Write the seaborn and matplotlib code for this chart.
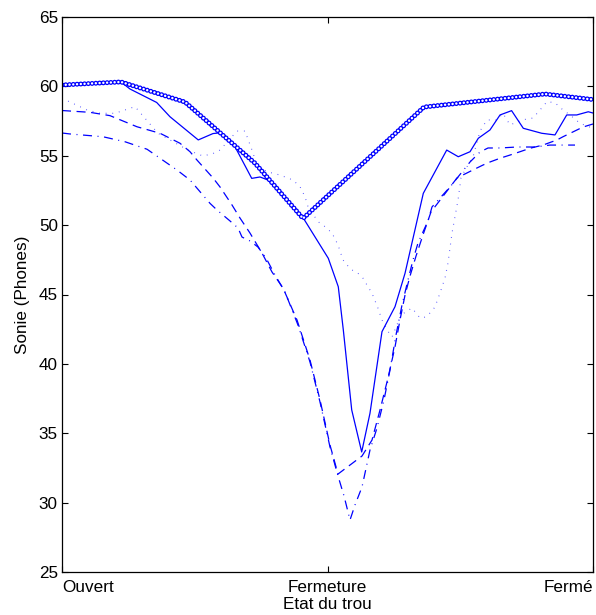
import matplotlib
matplotlib.use("Agg")
import matplotlib.pyplot as plt
import seaborn as sns
import numpy as np

# ---------------- data ----------------
x_ticks = [0, 50, 100]
x_tick_labels = ["Ouvert", "Fermeture", "Fermé"]
y_ticks = [25, 30, 35, 40, 45, 50, 55, 60, 65]

# reference line (circle markers)
ref_x = [0, 11.11, 23.16, 36.35, 45.39, 68.17, 90.96, 100]
ref_y = [60.10, 60.32, 58.87, 54.46, 50.48, 58.51, 59.45, 59.05]

# solid line
solid_x = [0, 11.11, 12.81, 17.83, 20.34, 25.66, 28.44, 30.07, 32.58, 35.73,
           37.29, 38.79, 45.44, 50.15, 52.03, 52.98, 54.56, 56.44, 58.00, 60.26,
           62.71, 64.60, 68.04, 72.45, 74.63, 76.84, 78.40, 80.60, 82.49, 84.67,
           86.87, 90.34, 92.84, 95.05, 96.93, 99.11, 100]
solid_y = [60.10, 60.32, 59.81, 58.84, 57.81, 56.14, 56.60, 56.66, 55.65, 53.37,
           53.47, 53.25, 50.51, 47.61, 45.56, 42.44, 36.68, 33.65, 36.44, 42.32,
           44.12, 46.53, 52.29, 55.41, 54.93, 55.29, 56.26, 56.86, 57.94, 58.25,
           56.98, 56.62, 56.50, 57.94, 57.94, 58.17, 58.08]

# dotted line
dot_x = [0, 4.71, 7.16, 9.98, 13.75, 16.20, 18.08, 23.73, 26.55, 28.44,
         29.76, 32.96, 34.46, 35.78, 36.72, 38.61, 41.05, 43.50, 44.82, 45.76,
         46.33, 48.21, 49.53, 50.85, 51.98, 52.92, 53.67, 54.61, 55.74, 56.69,
         57.44, 58.38, 59.51, 60.26, 61.21, 62.15, 63.84, 65.91, 67.42, 68.55,
         69.49, 70.24, 71.19, 72.13, 72.69, 73.45, 74.01, 74.58, 75.14, 75.89,
         77.40, 78.72, 80.04, 81.92, 83.05, 84.37, 86.63, 88.70, 90.02, 91.34,
         92.84, 94.35, 95.67, 97.55, 100]
dot_y = [59.14, 58.30, 58.06, 58.06, 58.54, 57.45, 56.62, 55.41, 54.98, 55.16,
         55.41, 56.78, 56.78, 55.41, 54.33, 53.85, 53.61, 53.25, 52.77, 52.05,
         51.33, 50.25, 49.89, 49.43, 48.57, 47.49, 47.13, 46.77, 46.53, 46.17,
         45.68, 45.09, 44.01, 43.16, 42.44, 41.94, 43.52, 44.03, 43.31, 43.38,
         43.74, 44.10, 45.11, 46.19, 47.27, 49.43, 50.61, 51.81, 53.40, 53.97,
         54.91, 56.78, 57.58, 57.58, 58.06, 57.22, 57.58, 57.72, 58.30, 58.90,
         58.82, 58.30, 57.94, 57.34, 56.98]

# dashed line
dash_x = [0, 5.27, 9.04, 14.12, 18.46, 22.22, 24.11, 25.42, 28.44, 29.76,
          32.02, 33.52, 35.40, 37.66, 39.55, 41.62, 44.26, 46.70, 48.59, 50.47,
          51.98, 56.50, 58.38, 59.89, 61.39, 62.71, 63.65, 64.60, 65.54, 66.67,
          67.98, 69.49, 74.39, 76.27, 77.78, 79.28, 80.60, 82.49, 84.37, 86.25,
          88.14, 90.58, 93.22, 94.35, 96.99, 98.12, 100]
dash_y = [58.26, 58.13, 57.89, 57.09, 56.62, 55.90, 55.29, 54.69, 53.40, 52.75,
          51.45, 50.51, 49.43, 47.99, 46.62, 45.47, 43.16, 40.28, 37.40, 34.15,
          32.06, 33.36, 34.51, 36.68, 38.98, 41.22, 43.16, 44.96, 46.33, 47.77,
          49.29, 50.95, 53.40, 53.76, 54.05, 54.33, 54.55, 54.82, 55.05, 55.29,
          55.54, 55.77, 56.14, 56.37, 56.86, 57.07, 57.29]

# dash-dot line
dd_x = [0, 1.51, 7.72, 11.86, 16.01, 18.46, 21.66, 24.11, 25.99, 27.87,
        29.19, 31.64, 33.15, 33.90, 35.40, 36.91, 38.42, 40.11, 42.00, 44.44,
        46.70, 48.59, 50.47, 51.98, 53.11, 54.24, 55.18, 56.50, 58.00, 59.32,
        60.64, 61.77, 62.90, 64.03, 65.16, 66.10, 67.04, 67.98, 68.93, 69.68,
        73.07, 75.33, 76.84, 78.72, 80.23, 82.49, 85.69, 89.08, 91.90, 96.61]
dd_y = [56.64, 56.57, 56.37, 56.01, 55.47, 54.82, 53.97, 53.25, 52.41, 51.57,
        51.09, 50.30, 49.79, 49.14, 48.86, 48.42, 47.63, 46.41, 45.18, 42.80,
        40.14, 37.25, 34.01, 31.92, 30.48, 28.75, 29.83, 31.13, 33.79, 35.38,
        37.40, 39.56, 42.08, 44.24, 46.05, 47.49, 48.71, 49.51, 50.30, 51.31,
        52.75, 53.83, 54.55, 55.27, 55.56, 55.56, 55.63, 55.63, 55.77, 55.77]

# ---------------- style ----------------
sns.set_theme(style="white")
plt.rcParams["font.family"] = ["Liberation Sans", "DejaVu Sans"]
plt.rcParams["lines.scale_dashes"] = False

FS = 12.3
fig = plt.figure(figsize=(5.96, 6.15), dpi=100)
ax = fig.add_axes([62 / 596, 43 / 615, 531 / 596, 555 / 615])
ax.set_facecolor("white")

BLUE = "#0000ff"

# solid
sns.lineplot(x=solid_x, y=solid_y, ax=ax, color=BLUE, linewidth=0.9,
             estimator=None, sort=False)
# dotted
sns.lineplot(x=dot_x, y=dot_y, ax=ax, color=BLUE, linewidth=0.8, alpha=0.7,
             linestyle=(0, (0.6, 4.2)), estimator=None, sort=False)
# dashed
sns.lineplot(x=dash_x, y=dash_y, ax=ax, color=BLUE, linewidth=0.9,
             linestyle=(0, (6.5, 4.0)), estimator=None, sort=False)
# dash-dot
sns.lineplot(x=dd_x, y=dd_y, ax=ax, color=BLUE, linewidth=0.9,
             linestyle=(0, (6.5, 4.0, 0.7, 4.0)), estimator=None, sort=False)
# reference line drawn as chain of small open circles
sns.lineplot(x=ref_x, y=ref_y, ax=ax, color=BLUE, linewidth=3.6,
             linestyle=(0, (0.01, 2.7)), dash_capstyle="round",
             estimator=None, sort=False)
sns.lineplot(x=ref_x, y=ref_y, ax=ax, color="white", linewidth=1.8,
             linestyle=(0, (0.01, 2.7)), dash_capstyle="round",
             estimator=None, sort=False)

ax.set_xlim(0, 100)
ax.set_ylim(25, 65)
ax.set_yticks(y_ticks)
ax.set_xticks(x_ticks)
ax.set_xticklabels(x_tick_labels)
for lbl, ha in zip(ax.get_xticklabels(), ["left", "center", "right"]):
    lbl.set_horizontalalignment(ha)

ax.tick_params(axis="both", which="both", direction="in", length=4, width=0.8,
               colors="black", labelsize=FS, top=True, right=True,
               bottom=True, left=True)
ax.tick_params(axis="x", pad=6)
ax.tick_params(axis="y", pad=3)
for s in ax.spines.values():
    s.set_color("black")
    s.set_linewidth(0.9)
    s.set_visible(True)

ax.set_xlabel("Etat du trou", fontsize=FS, color="black", labelpad=1)
ax.set_ylabel("Sonie (Phones)", fontsize=FS, color="black", labelpad=6)
ax.grid(False)
if ax.get_legend() is not None:
    ax.get_legend().remove()

fig.savefig("out.png", dpi=100, facecolor="white")
